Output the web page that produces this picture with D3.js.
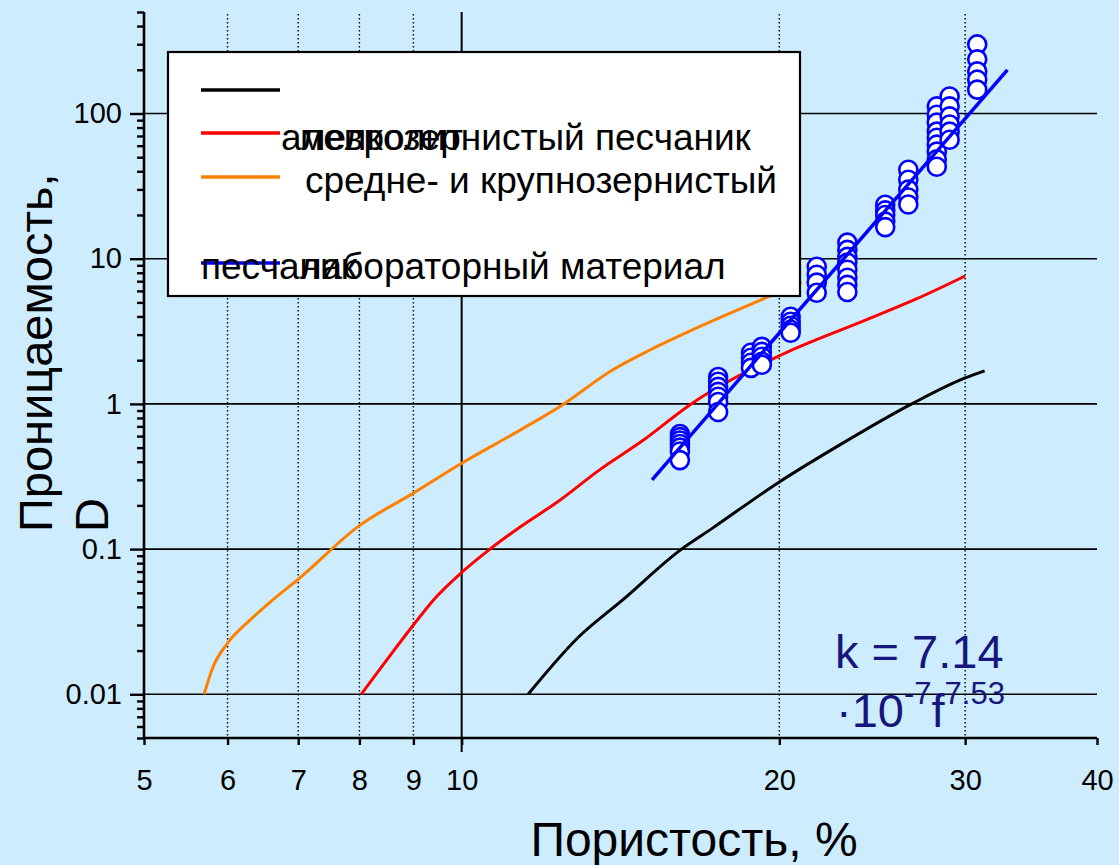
<!DOCTYPE html>
<html>
<head>
<meta charset="utf-8">
<script src="https://cdn.jsdelivr.net/npm/d3@7"></script>
<style>
  html, body { margin: 0; padding: 0; background: #cdecfe; }
  svg { display: block; font-family: "Liberation Sans", Arial, sans-serif; }
</style>
</head>
<body>
<svg id="chart" width="1119" height="865"></svg>
<script>
// porosity (%) / permeability (D)
const siltPhi = [11.56, 12.9, 14.2, 16.1, 17.3, 20.0, 22.8, 26.7, 30.0, 31.3];
const siltK   = [0.01, 0.0247, 0.0445, 0.098, 0.14, 0.29, 0.52, 1.0, 1.51, 1.69];

const finePhi = [8.03, 8.5, 9.0, 9.4, 10.0, 10.6, 11.36, 12.4, 13.5, 14.8, 16.5, 20.1, 24.2, 27.0, 30.0];
const fineK   = [0.01, 0.0174, 0.030, 0.0445, 0.069, 0.098, 0.142, 0.218, 0.35, 0.55, 1.0, 2.18, 3.8, 5.3, 7.6];

const coarsePhi = [5.70, 5.81, 6.0, 6.3, 6.58, 7.0, 8.0, 9.0, 10.0, 11.36, 12.5, 13.8, 15.1, 16.8, 20.0, 21.0];
const coarseK   = [0.01, 0.0153, 0.0225, 0.0324, 0.043, 0.062, 0.145, 0.243, 0.39, 0.66, 1.0, 1.66, 2.36, 3.4, 5.9, 6.9];

const fitPhi = [15.15, 32.9];
const fitK   = [0.30, 200];

// lab samples, grouped by porosity
const labPhi = [16.1, 17.5, 18.8, 19.25, 20.5, 21.7, 23.2, 25.2, 26.5, 28.2, 29.0, 30.8];
const labK = [
  [0.62, 0.59, 0.56, 0.53, 0.50, 0.47, 0.41],
  [1.53, 1.42, 1.31, 1.21, 1.12, 1.03, 0.88],
  [2.25, 2.08, 1.92, 1.77],
  [2.47, 2.28, 2.11, 1.95, 1.86],
  [3.98, 3.68, 3.45, 3.24, 3.09],
  [8.8, 7.76, 6.84, 5.82],
  [12.9, 11.5, 10.3, 9.4, 8.4, 7.4, 6.6, 5.9],
  [23.5, 21.5, 20.0, 18.0, 16.5],
  [41, 35, 29.9, 26.4, 23.6],
  [112, 98, 86.5, 75, 68, 61, 54.6, 48.3, 43],
  [131, 112, 95.5, 84, 75, 66],
  [299, 236, 195, 171, 146]
];

const xTicks = [5, 6, 7, 8, 9, 10, 20, 30, 40];
const xDotted = [6, 7, 8, 9, 20, 30];
const yDecades = [0.01, 0.1, 1, 10, 100];
const yTickLabels = ["0.01", "0.1", "1", "10", "100"];

const legendRows = [
  { color: "#000000", texts: [] },
  { color: "#ff0000", texts: [["алевролит", 281], ["мелкозернистый песчаник", 300]] },
  { color: "#ff8000", texts: [["средне- и крупнозернистый", 305]] },
  { color: "#0000ff", texts: [["песчаник", 201], ["лабораторный материал", 300]] }
];

const svg = d3.select("#chart");
svg.append("rect").attr("width", 1119).attr("height", 865).attr("fill", "#cdecfe");

const x = d3.scaleLog().domain([5, 40]).range([144, 1097]);
const y = d3.scaleLog().domain([0.005, 500]).range([738, 12]);

// grid
const grid = svg.append("g");
grid.selectAll("line.h").data(yDecades).enter().append("line")
  .attr("x1", x(5)).attr("x2", x(40))
  .attr("y1", d => y(d)).attr("y2", d => y(d))
  .attr("stroke", "#000").attr("stroke-width", 1.6);
grid.selectAll("line.v").data(xDotted).enter().append("line")
  .attr("x1", d => x(d)).attr("x2", d => x(d))
  .attr("y1", 14).attr("y2", y(0.005))
  .attr("stroke", "#000").attr("stroke-width", 1.4)
  .attr("stroke-dasharray", "1.5,2.5");
grid.append("line")
  .attr("x1", x(10)).attr("x2", x(10)).attr("y1", 12).attr("y2", y(0.005) + 14)
  .attr("stroke", "#000").attr("stroke-width", 2);

// axes
const xAxis = d3.axisBottom(x).tickValues(xTicks).tickSize(7).tickFormat(d3.format("d"));
const gx = svg.append("g").attr("transform", `translate(0,${y(0.005)})`).call(xAxis);
gx.select(".domain").attr("stroke-width", 2.6).attr("d", `M${x(5)},0H${x(40)}`);
gx.selectAll(".tick line").attr("stroke-width", 2.4);
gx.selectAll(".tick text").attr("font-size", 29).attr("dy", null).attr("y", 52)
  .attr("font-family", "Liberation Sans, Arial, sans-serif").attr("fill", "#000");

const yMinor = [];
[0.001, 0.01, 0.1, 1, 10, 100].forEach(dec => {
  for (let m = 2; m <= 9; m++) {
    const v = +(dec * m).toPrecision(3);
    if (v >= 0.005 && v <= 500) yMinor.push(v);
  }
});
const yAxisMinor = d3.axisLeft(y).tickValues(yMinor).tickSize(7).tickFormat("");
const gyMinor = svg.append("g").attr("transform", `translate(${x(5)},0)`).call(yAxisMinor);
gyMinor.select(".domain").remove();
gyMinor.selectAll(".tick line").attr("stroke-width", 2.4);

const yAxis = d3.axisLeft(y).tickValues(yDecades).tickSize(14)
  .tickFormat((d, i) => yTickLabels[i]);
const gy = svg.append("g").attr("transform", `translate(${x(5)},0)`).call(yAxis);
gy.select(".domain").attr("stroke-width", 2.6).attr("d", `M0,${y(500)}V${y(0.005)}`);
gy.selectAll(".tick line").attr("stroke-width", 2.4);
gy.selectAll(".tick text").attr("font-size", 29).attr("x", -22)
  .attr("font-family", "Liberation Sans, Arial, sans-serif").attr("fill", "#000");

// curves
const line = d3.line().x(d => x(d[0])).y(d => y(d[1])).curve(d3.curveMonotoneX);
const curves = [
  [siltPhi, siltK, "#000000"],
  [finePhi, fineK, "#ff0000"],
  [coarsePhi, coarseK, "#ff8000"]
];
curves.forEach(([px, ky, c]) => {
  svg.append("path")
    .datum(px.map((p, i) => [p, ky[i]]))
    .attr("d", line)
    .attr("fill", "none").attr("stroke", c).attr("stroke-width", 3);
});

// lab points
const pts = [];
labPhi.forEach((p, i) => labK[i].forEach(k => pts.push([p, k])));
svg.append("g").selectAll("circle").data(pts).enter().append("circle")
  .attr("cx", d => x(d[0])).attr("cy", d => y(d[1])).attr("r", 9)
  .attr("fill", "#fff").attr("stroke", "#0000ff").attr("stroke-width", 2.6);

svg.append("path")
  .datum(fitPhi.map((p, i) => [p, fitK[i]]))
  .attr("d", d3.line().x(d => x(d[0])).y(d => y(d[1])))
  .attr("stroke", "#0000ff").attr("stroke-width", 3.5).attr("fill", "none");

// legend
const lg = svg.append("g");
lg.append("rect").attr("x", 168).attr("y", 52).attr("width", 632).attr("height", 244)
  .attr("fill", "#fff").attr("stroke", "#000").attr("stroke-width", 2.2);
const rowY = [90, 133, 177, 263];
const textY = [90, 150, 193, 279];
legendRows.forEach((r, i) => {
  lg.append("line").attr("x1", 201).attr("x2", 280).attr("y1", rowY[i]).attr("y2", rowY[i])
    .attr("stroke", r.color).attr("stroke-width", 3.5);
  r.texts.forEach(([t, tx]) => {
    lg.append("text").attr("x", tx).attr("y", textY[i]).attr("font-size", 37)
      .attr("fill", "#000").text(t);
  });
});

// axis titles
svg.append("text").attr("x", 694).attr("y", 856).attr("text-anchor", "middle")
  .attr("font-size", 48).attr("fill", "#000").text("Пористость, %");
const yt = svg.append("text").attr("transform", "translate(52,532) rotate(-90)")
  .attr("font-size", 47).attr("fill", "#000");
yt.append("tspan").attr("x", 0).attr("y", 0).text("Проницаемость,");
yt.append("tspan").attr("x", 0).attr("y", 56).text("D");

// fit formula
const ann = svg.append("g").attr("fill", "#16167e");
ann.append("text").attr("x", 835).attr("y", 668).attr("font-size", 47).text("k = 7.14");
const f2 = ann.append("text").attr("x", 836).attr("y", 727).attr("font-size", 47);
f2.append("tspan").text("·10");
f2.append("tspan").attr("font-size", 31).attr("dy", -23).text("-7");
f2.append("tspan").attr("dy", 23).text("f");
f2.append("tspan").attr("font-size", 31).attr("dy", -23).text("7.53");
</script>
</body>
</html>
